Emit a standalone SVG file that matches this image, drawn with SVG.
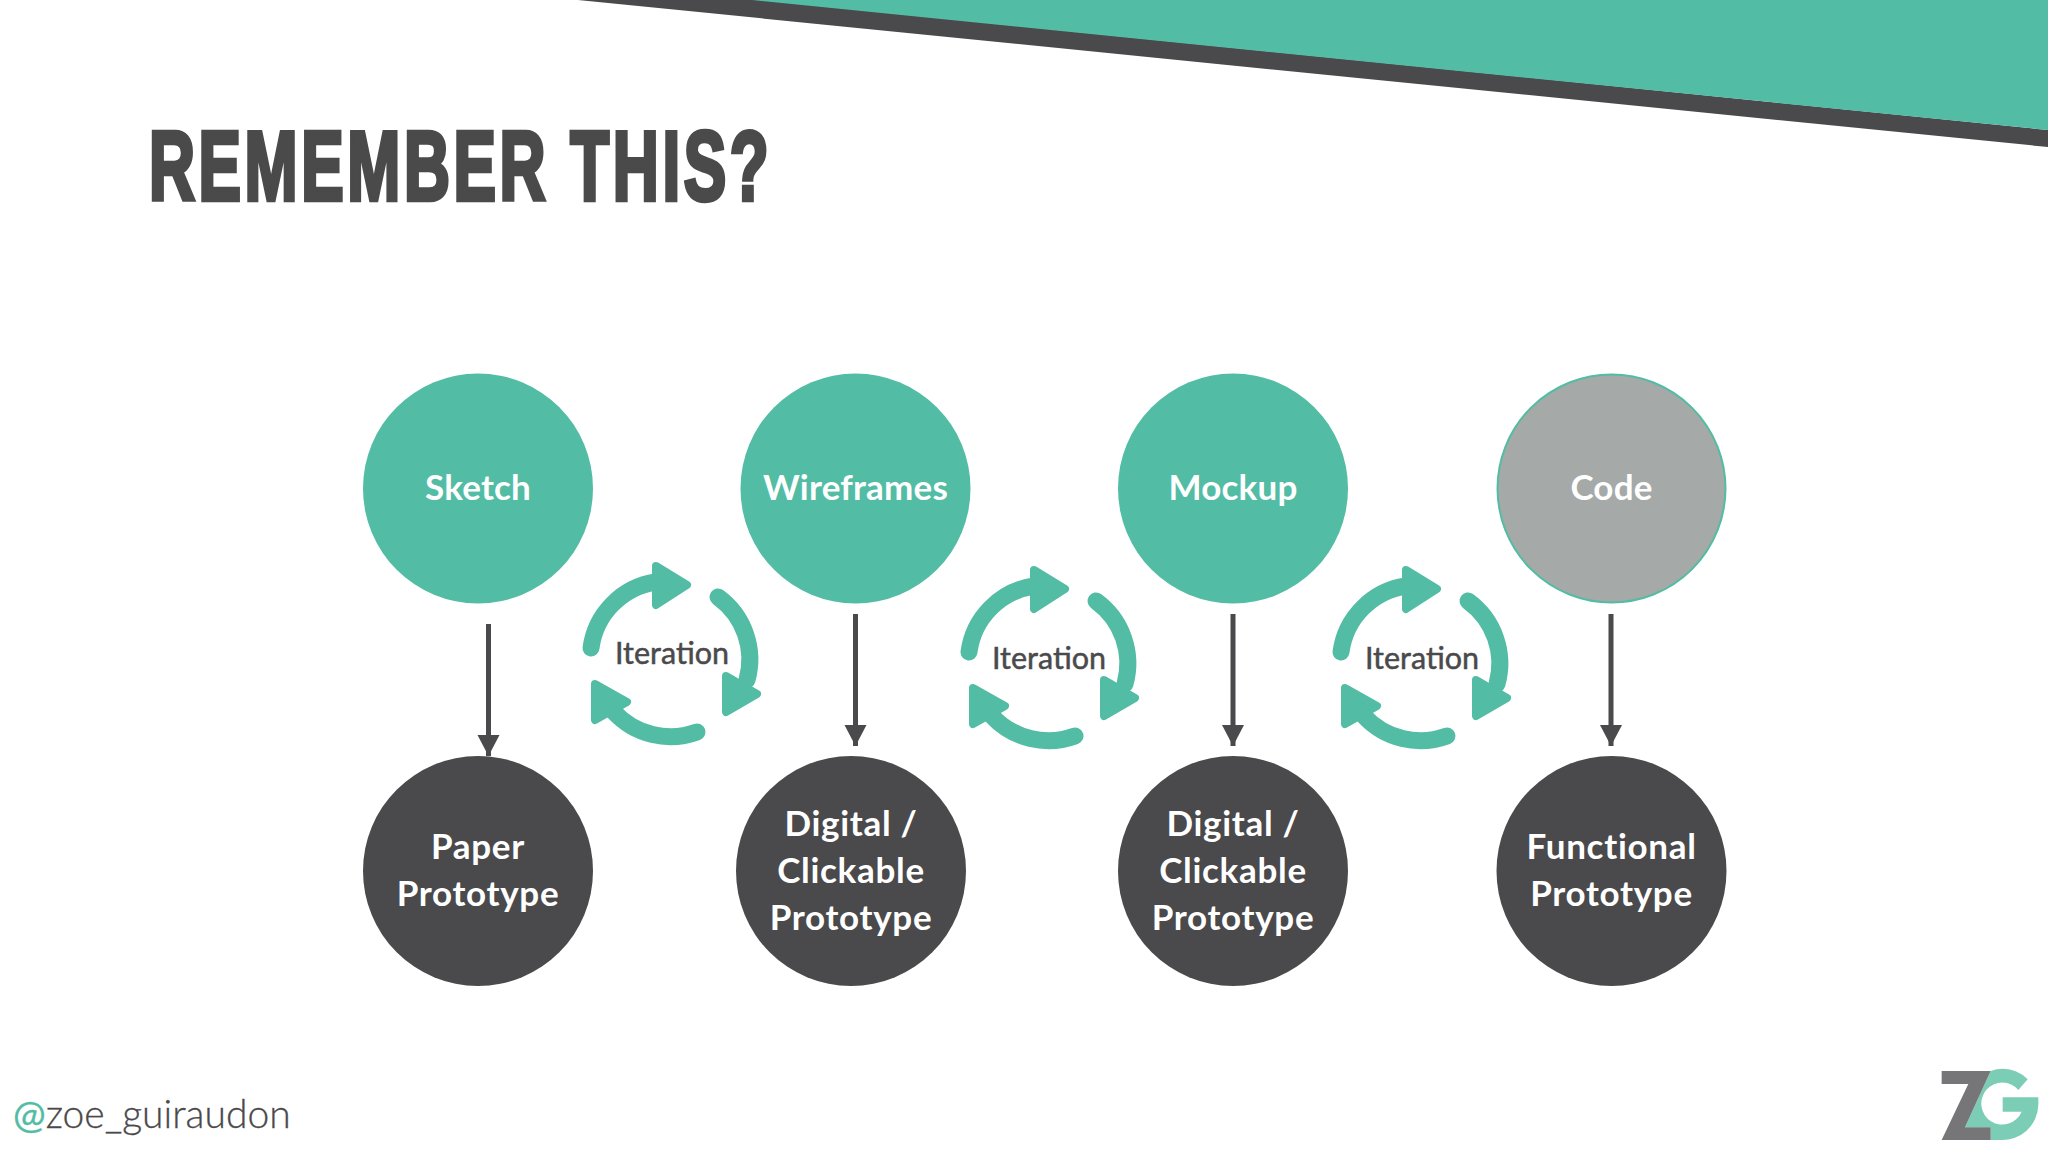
<svg xmlns="http://www.w3.org/2000/svg" width="2048" height="1152" viewBox="0 0 2048 1152">
<style>
.t{font-family:Lato,"Noto Sans",sans-serif;font-weight:700;font-size:35px;fill:#fff;text-anchor:middle;letter-spacing:.2px}
.p{letter-spacing:.7px}
.it{font-family:Lato,"Noto Sans",sans-serif;font-weight:400;font-size:30.500px;fill:#4a494b;stroke:#4a494b;stroke-width:.5;text-anchor:middle}
.g{fill:#52bca4}.d{fill:#4a494b}
.ln{stroke:#4a494b;stroke-width:5;fill:none;marker-end:url(#ah)}
.arc{fill:none;stroke:#52bca4;stroke-width:17;stroke-linecap:round}
.hd{fill:#52bca4;stroke:#52bca4;stroke-width:8;stroke-linejoin:round}
</style>
<defs>
<marker id="ah" markerUnits="userSpaceOnUse" markerWidth="24" markerHeight="24" refX="21" refY="11" orient="auto"><path d="M0,0L21,11L0,22Z" fill="#4a494b"/></marker>
<g id="cyc">
<path class="arc" d="M31,108A77,77 0 0 1 96,42"/>
<path class="hd" d="M96,26L127,45L96,65Z"/>
<path class="arc" d="M158,57A77,77 0 0 1 187,140"/>
<path class="hd" d="M166,136L197,154L166,172Z"/>
<path class="arc" d="M137,192A77,77 0 0 1 54,172"/>
<path class="hd" d="M35,144L67,162L35,180Z"/>
</g>
</defs>
<rect width="2048" height="1152" fill="#fff"/>
<path d="M578,0H760L2048,130V147Z" fill="#4a494b"/>
<path d="M752,0H2048V130Z" fill="#52bca4"/>
<text transform="translate(149,200) scale(.65,1)" font-family="Liberation Sans,sans-serif" font-weight="700" font-size="98" letter-spacing="5.500" fill="#4a4a4a" stroke="#4a4a4a" stroke-width="4.500">REMEMBER THIS?</text>
<g id="connectors">
<line class="ln" x1="488.500" y1="624" x2="488.500" y2="756"/>
<line class="ln" x1="855.500" y1="614" x2="855.500" y2="746"/>
<line class="ln" x1="1233" y1="614" x2="1233" y2="746"/>
<line class="ln" x1="1611" y1="614" x2="1611" y2="746"/>
</g>
<g id="sketch"><circle class="g" cx="478" cy="488.500" r="115"/><text class="t" x="478" y="500">Sketch</text></g>
<g id="wireframes"><circle class="g" cx="855.500" cy="488.500" r="115"/><text class="t" x="855.500" y="500">Wireframes</text></g>
<g id="mockup"><circle class="g" cx="1233" cy="488.500" r="115"/><text class="t" x="1233" y="500">Mockup</text></g>
<g id="code"><circle cx="1611.500" cy="488.500" r="114" fill="#a5a9a7" stroke="#52bca4" stroke-width="2"/><text class="t" x="1611.500" y="500">Code</text></g>
<g id="paper"><circle class="d" cx="478" cy="871" r="115"/><text class="t p" x="478" y="859">Paper</text><text class="t p" x="478" y="906">Prototype</text></g>
<g id="digital1"><circle class="d" cx="851" cy="871" r="115"/><text class="t p" x="851" y="836">Digital /</text><text class="t p" x="851" y="883">Clickable</text><text class="t p" x="851" y="930">Prototype</text></g>
<g id="digital2"><circle class="d" cx="1233" cy="871" r="115"/><text class="t p" x="1233" y="836">Digital /</text><text class="t p" x="1233" y="883">Clickable</text><text class="t p" x="1233" y="930">Prototype</text></g>
<g id="functional"><circle class="d" cx="1611.500" cy="871" r="115"/><text class="t p" x="1611.500" y="859">Functional</text><text class="t p" x="1611.500" y="906">Prototype</text></g>
<g id="iter1"><use href="#cyc" x="560" y="540"/><text class="it" x="672" y="664">Iteration</text></g>
<g id="iter2"><use href="#cyc" x="938" y="544"/><text class="it" x="1049" y="669">Iteration</text></g>
<g id="iter3"><use href="#cyc" x="1310" y="544"/><text class="it" x="1422" y="669">Iteration</text></g>
<text x="13" y="1128" font-family="Lato,sans-serif" font-weight="300" font-size="39" fill="#4a494b" stroke="#4a494b" stroke-width=".3"><tspan fill="#52bca4" stroke="#52bca4" font-weight="400">@</tspan>zoe_guiraudon</text>
<g id="logo" transform="translate(1900,1040) scale(.3333)">
<path d="M383,118A108,108 0 0 0 290,88L272,93L195,262H272V300H300A108,108 0 0 0 415,195V172H308V215H365A63,63 0 1 1 355,150Z" fill="#7ccdb5"/>
<path d="M125,93H272L195,262H272V300H125L205,132H125Z" fill="#767577"/>
</g>
</svg>
